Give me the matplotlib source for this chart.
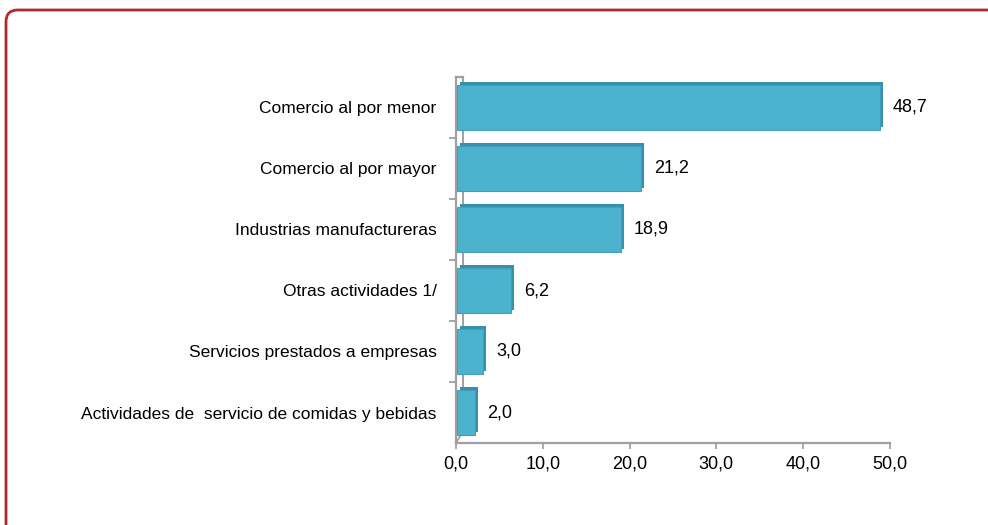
import matplotlib.pyplot as plt
import matplotlib.transforms as mtransforms
from matplotlib.patches import FancyBboxPatch

plt.rcParams["font.family"] = ["Liberation Sans", "DejaVu Sans"]

categories = [
    "Comercio al por menor",
    "Comercio al por mayor",
    "Industrias manufactureras",
    "Otras actividades 1/",
    "Servicios prestados a empresas",
    "Actividades de  servicio de comidas y bebidas",
]
values = [48.7, 21.2, 18.9, 6.2, 3.0, 2.0]
labels = ["48,7", "21,2", "18,9", "6,2", "3,0", "2,0"]
xticks = [0, 10, 20, 30, 40, 50]
xticklabels = ["0,0", "10,0", "20,0", "30,0", "40,0", "50,0"]

W, H = 988, 525
fig = plt.figure(figsize=(W / 100, H / 100), dpi=100)

# red rounded frame (right and bottom fall outside the picture)
frame = FancyBboxPatch(
    (6 / W, -30 / H), 1.2, (H - 10 + 30) / H,
    boxstyle="round,pad=0,rounding_size=0.012",
    transform=fig.transFigure, fill=False,
    edgecolor="#b3282b", linewidth=2.0, mutation_aspect=W / H,
)
fig.patches.append(frame)

ax = fig.add_axes([456 / W, 1 - 443 / H, 434 / W, 366 / H])

ypos = list(range(len(categories)))[::-1]
# 3D depth: darker copy shifted up/right
depth = mtransforms.offset_copy(ax.transData, fig=fig, x=3, y=3, units="dots")
ax.barh(ypos, values, height=0.74, left=0.15, color="#3591ad",
        edgecolor="none", transform=depth, zorder=2)
ax.barh(ypos, values, height=0.74, left=0.15, color="#4cb2ce",
        edgecolor="#459fb8", linewidth=0.8, zorder=3)

for y, v, lab in zip(ypos, values, labels):
    ax.text(v + 1.6, y, lab, va="center", ha="left", fontsize=13)

ax.set_xlim(0, 50)
ax.set_ylim(-0.5, len(categories) - 0.5)
ax.set_xticks(xticks)
ax.set_xticklabels(xticklabels, fontsize=13)
ax.set_yticks([y - 0.5 for y in range(1, len(categories))], minor=True)
ax.set_yticks(ypos)
ax.set_yticklabels(categories, fontsize=12.5)
ax.tick_params(axis="y", which="major", length=0, pad=14)
ax.tick_params(axis="y", which="minor", length=5, color="#999999", width=1.2)
ax.tick_params(axis="x", length=4, color="#999999", width=1.2, pad=5)

for s in ["top", "right"]:
    ax.spines[s].set_visible(False)
for s in ["left", "bottom"]:
    ax.spines[s].set_color("#a0a0a0")
    ax.spines[s].set_linewidth(1.6)

# back wall and floor edge of the 3D frame
ax.plot([0.015, 0.015], [0.03, 1.0], transform=ax.transAxes,
        color="#a0a0a0", lw=1.4, zorder=1, clip_on=False)
ax.plot([0.0, 0.015], [0.0, 0.03], transform=ax.transAxes,
        color="#a0a0a0", lw=1.4, zorder=1, clip_on=False)
ax.plot([0.0, 0.015], [1.0, 1.0], transform=ax.transAxes,
        color="#a0a0a0", lw=1.6, zorder=1, clip_on=False)

fig.savefig("out.png", dpi=100)
